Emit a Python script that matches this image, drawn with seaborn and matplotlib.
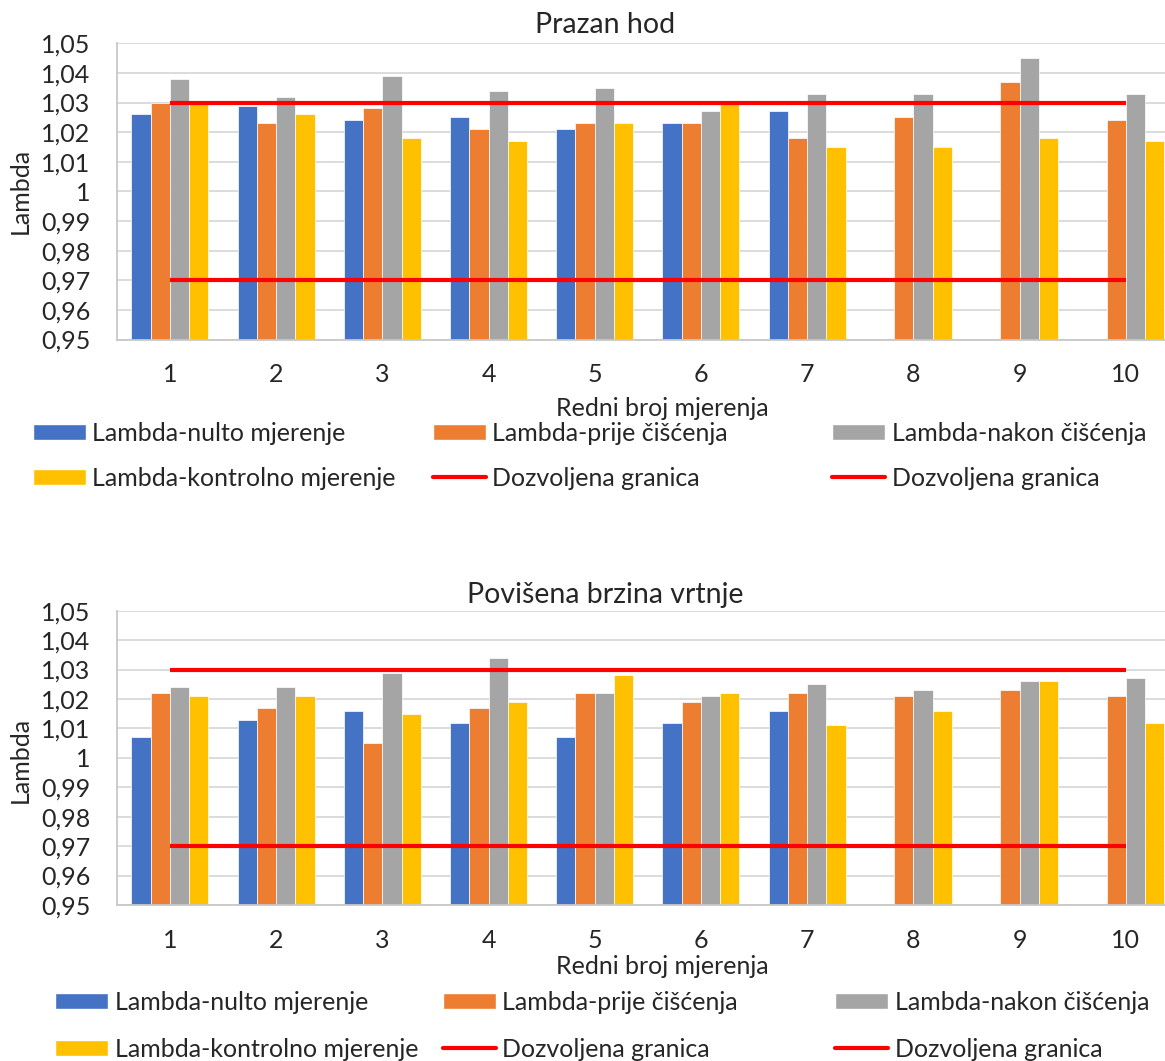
import numpy as np
import pandas as pd
import matplotlib
matplotlib.use("Agg")
import matplotlib.pyplot as plt
import seaborn as sns
from matplotlib.patches import Patch
from matplotlib.lines import Line2D

# ---------------- data ----------------
mjerenja = ["1", "2", "3", "4", "5", "6", "7", "8", "9", "10"]
serije = ["Lambda-nulto mjerenje", "Lambda-prije čišćenja",
          "Lambda-nakon čišćenja", "Lambda-kontrolno mjerenje"]
granica_naziv = "Dozvoljena granica"

naslov_1 = "Prazan hod"
naslov_2 = "Povišena brzina vrtnje"
x_naziv = "Redni broj mjerenja"
y_naziv = "Lambda"

prazan_nulto = [1.026, 1.029, 1.024, 1.025, 1.021, 1.023, 1.027, np.nan, np.nan, np.nan]
prazan_prije = [1.030, 1.023, 1.028, 1.021, 1.023, 1.023, 1.018, 1.025, 1.037, 1.024]
prazan_nakon = [1.038, 1.032, 1.039, 1.034, 1.035, 1.027, 1.033, 1.033, 1.045, 1.033]
prazan_kontrolno = [1.030, 1.026, 1.018, 1.017, 1.023, 1.030, 1.015, 1.015, 1.018, 1.017]

brzina_nulto = [1.007, 1.013, 1.016, 1.012, 1.007, 1.012, 1.016, np.nan, np.nan, np.nan]
brzina_prije = [1.022, 1.017, 1.005, 1.017, 1.022, 1.019, 1.022, 1.021, 1.023, 1.021]
brzina_nakon = [1.024, 1.024, 1.029, 1.034, 1.022, 1.021, 1.025, 1.023, 1.026, 1.027]
brzina_kontrolno = [1.021, 1.021, 1.015, 1.019, 1.028, 1.022, 1.011, 1.016, 1.026, 1.012]

gornja_granica = [1.03, 1.03, 1.03, 1.03, 1.03, 1.03, 1.03, 1.03, 1.03, 1.03]
donja_granica = [0.97, 0.97, 0.97, 0.97, 0.97, 0.97, 0.97, 0.97, 0.97, 0.97]

y_ticks = [0.95, 0.96, 0.97, 0.98, 0.99, 1.00, 1.01, 1.02, 1.03, 1.04, 1.05]
y_tick_labels = ["0,95", "0,96", "0,97", "0,98", "0,99", "1",
                 "1,01", "1,02", "1,03", "1,04", "1,05"]

boje = ["#4472C4", "#ED7D31", "#A5A5A5", "#FFC000"]
crvena = "#FF0000"

# ---------------- style ----------------
sns.set_theme(style="white")
FONT = ["Lato", "DejaVu Sans"]
plt.rcParams["font.family"] = FONT

W, H = 1165, 1061
fig = plt.figure(figsize=(W / 100, H / 100), dpi=100)


def fx(px):
    return px / W


def fy(py):
    return 1 - py / H


FS = 18
FS_TITLE = 20.5


def long_df(vals_list):
    rows = []
    for s, vals in zip(serije, vals_list):
        for m, v in zip(mjerenja, vals):
            if not np.isnan(v):
                rows.append({"mjerenje": m, "serija": s, "lambda": v})
    return pd.DataFrame(rows)


def draw_panel(top_px, bot_px, vals_list, title, title_y, xlab_y, ylab_y,
               leg_x, leg_y, leg_spacing):
    left_px, right_px = 116.7, 1179
    ax = fig.add_axes([fx(left_px), fy(bot_px),
                       (right_px - left_px) / W, (bot_px - top_px) / H])
    df = long_df(vals_list)
    sns.barplot(data=df, x="mjerenje", y="lambda", hue="serija",
                order=mjerenja, hue_order=serije, palette=boje,
                width=0.725, gap=0, errorbar=None, legend=False,
                edgecolor="white", linewidth=0.5, saturation=1, ax=ax)
    pos = np.arange(len(mjerenja))
    sns.lineplot(x=pos, y=gornja_granica, color=crvena, lw=3, ax=ax,
                 solid_capstyle="butt")
    sns.lineplot(x=pos, y=donja_granica, color=crvena, lw=3, ax=ax,
                 solid_capstyle="butt")
    ax.set_xlim(-0.5, len(mjerenja) - 0.5)
    ax.set_ylim(0.95, 1.05)
    ax.set_xticks(pos)
    ax.set_xticklabels(mjerenja, fontsize=FS)
    ax.set_yticks(y_ticks)
    ax.set_yticklabels(y_tick_labels, fontsize=FS)
    ax.tick_params(axis="both", length=0)
    ax.tick_params(axis="x", pad=17)
    ax.tick_params(axis="y", pad=19)
    ax.set_xlabel("")
    ax.set_ylabel("")
    ax.yaxis.grid(True, color="#D9D9D9", lw=1.3)
    ax.xaxis.grid(False)
    ax.set_axisbelow(True)
    for s in ["top", "right"]:
        ax.spines[s].set_visible(False)
    for s in ["left", "bottom"]:
        ax.spines[s].set_color("#C8C8C8")
        ax.spines[s].set_linewidth(1.3)

    fig.text(fx(605), fy(title_y), title, ha="center", va="center",
             fontsize=FS_TITLE)
    fig.text(fx(662), fy(xlab_y), x_naziv, ha="center", va="center",
             fontsize=FS)
    fig.text(fx(20), fy(ylab_y), y_naziv, ha="center", va="center",
             rotation=90, fontsize=FS)

    cols = [
        [Patch(facecolor=boje[0], label=serije[0]),
         Patch(facecolor=boje[3], label=serije[3])],
        [Patch(facecolor=boje[1], label=serije[1]),
         Line2D([], [], color=crvena, lw=3, label=granica_naziv)],
        [Patch(facecolor=boje[2], label=serije[2]),
         Line2D([], [], color=crvena, lw=3, label=granica_naziv)],
    ]
    for x0, handles in zip(leg_x, cols):
        fig.legend(handles=handles, loc="upper left",
                   bbox_to_anchor=(fx(x0), fy(leg_y)),
                   frameon=False, fontsize=FS, handlelength=2.1,
                   handleheight=0.6, handletextpad=0.28,
                   labelspacing=leg_spacing, borderpad=0, borderaxespad=0)
    return ax


draw_panel(43.3, 339.5,
           [prazan_nulto, prazan_prije, prazan_nakon, prazan_kontrolno],
           naslov_1, 25, 408, 191, [33, 433, 832], 422, 0.87)
draw_panel(610.7, 905,
           [brzina_nulto, brzina_prije, brzina_nakon, brzina_kontrolno],
           naslov_2, 595, 966, 760, [55, 443, 835], 991, 0.95)

fig.savefig("out.png", dpi=100)
